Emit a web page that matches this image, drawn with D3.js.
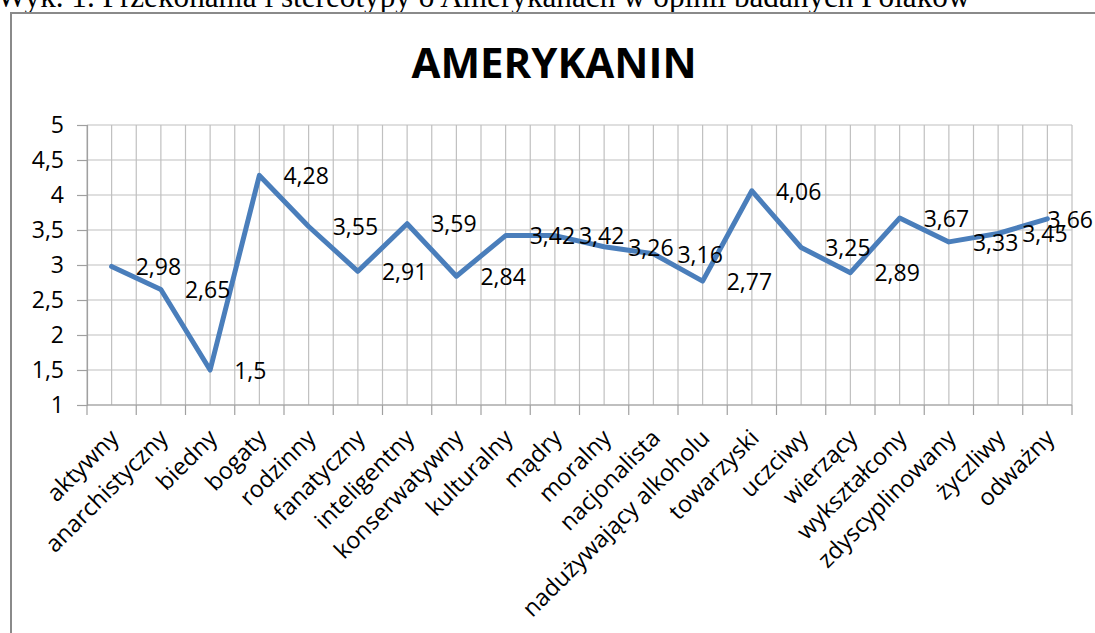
<!DOCTYPE html>
<html>
<head>
<meta charset="utf-8">
<script src="https://cdn.jsdelivr.net/npm/d3@7"></script>
<style>
  body { margin: 0; background: #fff; }
  text { font-family: "Open Sans", "Noto Sans", sans-serif; fill: #000; }
</style>
</head>
<body>
<div id="chart"></div>
<script>
var caption = 'Wyk. 1. Przekonania i stereotypy o Amerykanach w opinii badanych Polaków';
var title = 'AMERYKANIN';

var categories = ['aktywny', 'anarchistyczny', 'biedny', 'bogaty', 'rodzinny', 'fanatyczny',
  'inteligentny', 'konserwatywny', 'kulturalny', 'mądry', 'moralny', 'nacjonalista',
  'nadużywający alkoholu', 'towarzyski', 'uczciwy', 'wierzący', 'wykształcony',
  'zdyscyplinowany', 'życzliwy', 'odważny'];
var values = [2.98, 2.65, 1.5, 4.28, 3.55, 2.91, 3.59, 2.84, 3.42, 3.42, 3.26, 3.16,
  2.77, 4.06, 3.25, 2.89, 3.67, 3.33, 3.45, 3.66];
var yTicks = [1, 1.5, 2, 2.5, 3, 3.5, 4, 4.5, 5];

var W = 1095, H = 633;
var plot = { left: 87, right: 1072, top: 125, bottom: 405 };

// polish decimal comma
function fmt(v) {
  return String(v).replace('.', ',');
}

var svg = d3.select('#chart').append('svg')
  .attr('width', W)
  .attr('height', H);

// caption of the document, cut off at the top
var cap = svg.append('text')
  .attr('x', -3)
  .attr('y', 7)
  .style('font-family', '"Liberation Serif", "Times New Roman", serif')
  .style('font-size', '28px')
  .text(caption);
var capLen = cap.node().getComputedTextLength();
cap.style('font-size', (28 * 974 / capLen) + 'px');

// chart frame
svg.append('rect')
  .attr('x', 11)
  .attr('y', 13)
  .attr('width', 1300)
  .attr('height', 800)
  .attr('fill', 'none')
  .attr('stroke', '#8a8a8a')
  .attr('stroke-width', 2);

svg.append('text')
  .attr('x', 554)
  .attr('y', 78)
  .attr('text-anchor', 'middle')
  .style('font-size', '42px')
  .style('font-weight', 'bold')
  .text(title);

var x = d3.scaleBand()
  .domain(categories)
  .range([plot.left, plot.right]);
var y = d3.scaleLinear()
  .domain([1, 5])
  .range([plot.bottom, plot.top]);

function cx(c) {
  return x(c) + x.bandwidth() / 2;
}

var edges = categories.map(function(c) { return x(c); }).concat([plot.right]);
var centers = categories.map(cx);

var grid = svg.append('g').attr('class', 'grid');

// vertical gridlines at category edges and centres
grid.selectAll('line.v')
  .data(edges.concat(centers))
  .enter().append('line')
  .attr('class', 'v')
  .attr('x1', function(d) { return d; })
  .attr('x2', function(d) { return d; })
  .attr('y1', plot.top)
  .attr('y2', plot.bottom)
  .attr('stroke', '#c0c0c0')
  .attr('stroke-width', 1.2);

// horizontal gridlines
grid.selectAll('line.h')
  .data(yTicks)
  .enter().append('line')
  .attr('class', 'h')
  .attr('x1', plot.left)
  .attr('x2', plot.right)
  .attr('y1', function(d) { return y(d); })
  .attr('y2', function(d) { return y(d); })
  .attr('stroke', '#c0c0c0')
  .attr('stroke-width', 1.2);

// y axis
var yAxis = svg.append('g')
  .attr('transform', 'translate(' + plot.left + ',0)')
  .call(d3.axisLeft(y).tickValues(yTicks).tickFormat(fmt).tickSize(10).tickPadding(13));
yAxis.select('.domain').attr('stroke', '#a0a0a0').attr('stroke-width', 1.2);
yAxis.selectAll('.tick line').attr('stroke', '#a0a0a0').attr('stroke-width', 1.2);
yAxis.selectAll('.tick text')
  .style('font-family', '"Open Sans", sans-serif')
  .style('font-size', '23px')
  .attr('fill', '#000');

// x axis line and ticks at category edges
svg.append('line')
  .attr('x1', plot.left)
  .attr('x2', plot.right)
  .attr('y1', plot.bottom)
  .attr('y2', plot.bottom)
  .attr('stroke', '#a0a0a0')
  .attr('stroke-width', 1.2);

svg.selectAll('line.xtick')
  .data(edges)
  .enter().append('line')
  .attr('class', 'xtick')
  .attr('x1', function(d) { return d; })
  .attr('x2', function(d) { return d; })
  .attr('y1', plot.bottom)
  .attr('y2', plot.bottom + 10)
  .attr('stroke', '#a0a0a0')
  .attr('stroke-width', 1.2);

// rotated category labels
svg.selectAll('text.xlab')
  .data(categories)
  .enter().append('text')
  .attr('class', 'xlab')
  .attr('text-anchor', 'end')
  .attr('dy', '0.75em')
  .attr('transform', function(d) {
    return 'translate(' + (cx(d) - 4) + ',' + (plot.bottom + 22) + ') rotate(-45)';
  })
  .style('font-size', '23.5px')
  .text(function(d) { return d; });

// series line
var line = d3.line()
  .x(function(d, i) { return cx(categories[i]); })
  .y(function(d) { return y(d); });

svg.append('path')
  .datum(values)
  .attr('d', line)
  .attr('fill', 'none')
  .attr('stroke', '#4a7ebb')
  .attr('stroke-width', 5)
  .attr('stroke-linejoin', 'round')
  .attr('stroke-linecap', 'round');

// data labels, to the right of each point, kept inside the frame
svg.selectAll('text.vlab')
  .data(values)
  .enter().append('text')
  .attr('class', 'vlab')
  .attr('x', function(d, i) { return cx(categories[i]) + 24; })
  .attr('y', function(d) { return y(d); })
  .attr('dy', '0.38em')
  .style('font-size', '23px')
  .text(fmt)
  .each(function() {
    var t = d3.select(this);
    var len = this.getComputedTextLength();
    var x0 = +t.attr('x');
    if (x0 + len > 1093) t.attr('x', 1093 - len);
  });
</script>
</body>
</html>
